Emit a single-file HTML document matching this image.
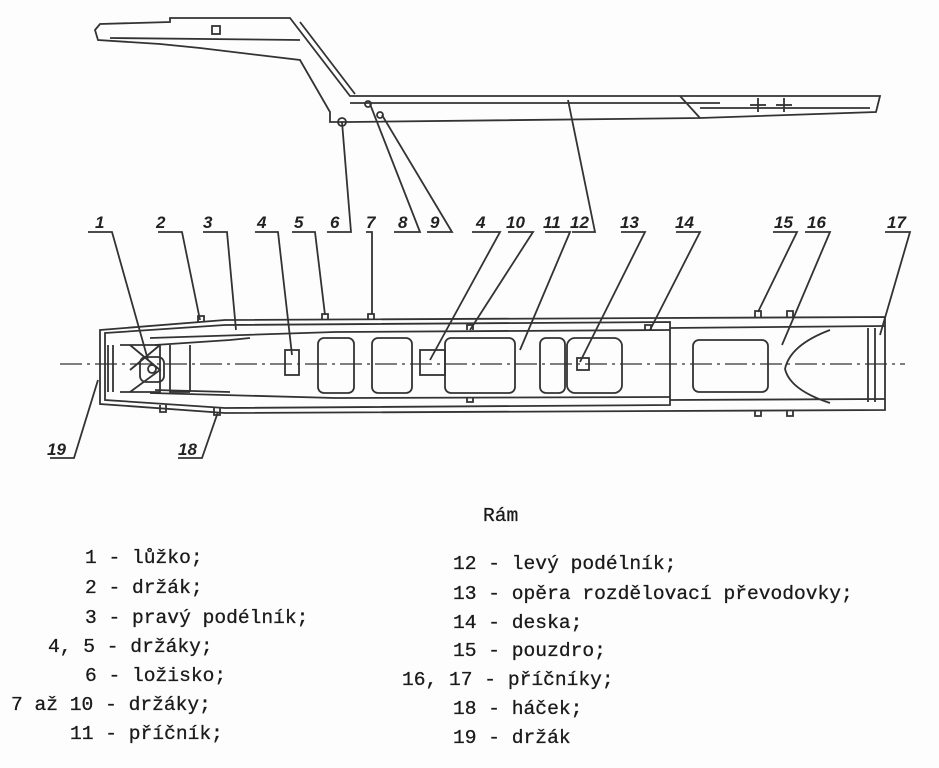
<!DOCTYPE html>
<html><head><meta charset="utf-8"><style>
body{margin:0;background:#fff;}
svg{display:block}
.t{font-family:"Liberation Mono",monospace;font-size:19.6px;fill:#1a1a1a;stroke:#1a1a1a;stroke-width:0.3}
.n{font-family:"Liberation Sans",sans-serif;font-size:17px;font-style:italic;font-weight:bold;fill:#222}
</style></head><body>
<svg width="939" height="768" viewBox="0 0 939 768" xmlns="http://www.w3.org/2000/svg">
<rect width="939" height="768" fill="#fdfdfd"/>
<g stroke="#333" stroke-width="1.8" fill="none">
<path d="M95 30 L100 24 L170 22 L170 18 L290 18 L350 96 L880 96 L876 112 L700 118 L350 122 L330 122 L330 112 L300 60 L200 48 L160 44 L98 40 Z"/>
<path d="M300 22 L355 94 M110 38 L300 40 M350 103 L720 103 M700 108 L870 108 M680 96 L700 118"/>
<rect x="212" y="26" width="8" height="8"/>
<line x1="750" y1="105" x2="766" y2="105"/><line x1="758" y1="98" x2="758" y2="112"/>
<line x1="776" y1="105" x2="792" y2="105"/><line x1="784" y1="98" x2="784" y2="112"/>
<circle cx="342" cy="122" r="4"/><circle cx="368" cy="104" r="3"/><circle cx="380" cy="115" r="3"/>
<path d="M100 330 L225 320 L885 317 L885 410 L225 413 L100 404 Z"/>
<path d="M105 333 L225 325 L670 322 L670 405 L225 408 L105 400 Z"/>
<path d="M150 338 L335 332 L670 330 M150 393 L335 398 L670 397"/>
<path d="M670 328 L885 326 M670 400 L885 399"/>
<path d="M155 345 L230 340 L250 338 M155 390 L230 392"/>
<path d="M108 345 L108 392 M113 345 L113 392 M120 345 L160 345 L160 392 L120 392"/>
<path d="M130 345 L160 370 L130 392 M160 345 L130 370 M170 345 L170 392 L190 392 M190 345 L190 392"/>
<rect x="140" y="357" width="24" height="25" rx="6"/>
<circle cx="152" cy="369" r="4"/>
<rect x="285" y="350" width="14" height="25"/>
<rect x="318" y="338" width="36" height="55" rx="6"/>
<rect x="372" y="338" width="40" height="55" rx="6"/>
<rect x="420" y="350" width="25" height="25"/>
<rect x="445" y="338" width="70" height="55" rx="6"/>
<rect x="540" y="338" width="25" height="55" rx="6"/>
<rect x="567" y="338" width="55" height="55" rx="8"/>
<rect x="577" y="358" width="12" height="12"/>
<rect x="693" y="340" width="75" height="52" rx="6"/>
<path d="M830 330 Q790 345 785 369 Q790 390 830 403"/>
<path d="M868 328 L868 402 M875 328 L875 402"/>
<line x1="60" y1="364" x2="905" y2="364" stroke-dasharray="22,5,3,5" stroke-width="1.2"/>
<path d="M198 322 v-6 h6 v6 M322 320 v-6 h6 v6 M368 320 v-6 h6 v6 M467 330 v-5 h6 v5 M645 330 v-5 h6 v5 M755 317 v-6 h6 v6 M787 317 v-6 h6 v6 M160 405 v7 h6 v-7 M214 408 v7 h6 v-7 M755 410 v6 h6 v-6 M787 410 v6 h6 v-6 M467 397 v5 h6 v-5"/>
<path d="M88 232 L112 232 L148 360 M158 232 L182 232 L200 320 M203 232 L227 232 L236 330 M255 232 L278 232 L292 355 M292 232 L315 232 L325 315 M327 232 L351 232 L342 122 M366 232 L372 232 L372 314 M394 232 L420 232 L370 104 M427 232 L452 232 L382 115 M472 232 L500 232 L430 360 M508 232 L533 232 L470 330 M545 232 L570 232 L520 350 M572 232 L595 232 L568 100 M621 232 L645 232 L580 362 M676 232 L700 232 L650 330 M773 232 L797 232 L758 312 M805 232 L830 232 L782 345 M885 232 L910 232 L880 335 M50 458 L74 458 L98 380 M178 458 L202 458 L218 412"/>
</g>
<g class="n">
<text x="95" y="228">1</text><text x="156" y="228">2</text><text x="203" y="228">3</text>
<text x="257" y="228">4</text><text x="294" y="228">5</text><text x="330" y="228">6</text>
<text x="366" y="228">7</text><text x="398" y="228">8</text><text x="430" y="228">9</text>
<text x="476" y="228">4</text><text x="506" y="228">10</text><text x="543" y="228">11</text>
<text x="570" y="228">12</text><text x="620" y="228">13</text><text x="675" y="228">14</text>
<text x="774" y="228">15</text><text x="807" y="228">16</text><text x="887" y="228">17</text>
<text x="47" y="455">19</text><text x="178" y="455">18</text>
</g>
<g class="t">
<text x="483" y="521">Rám</text>
<text x="85" y="563">1 - lůžko;</text>
<text x="85" y="593">2 - držák;</text>
<text x="85" y="623">3 - pravý podélník;</text>
<text x="48" y="652">4, 5 - držáky;</text>
<text x="85" y="681">6 - ložisko;</text>
<text x="11" y="710">7 až 10 - držáky;</text>
<text x="70" y="739">11 - příčník;</text>
<text x="453" y="569">12 - levý podélník;</text>
<text x="453" y="599">13 - opěra rozdělovací převodovky;</text>
<text x="453" y="628">14 - deska;</text>
<text x="453" y="656">15 - pouzdro;</text>
<text x="402" y="685">16, 17 - příčníky;</text>
<text x="453" y="714">18 - háček;</text>
<text x="453" y="743">19 - držák</text>
</g>
</svg>
</body></html>
